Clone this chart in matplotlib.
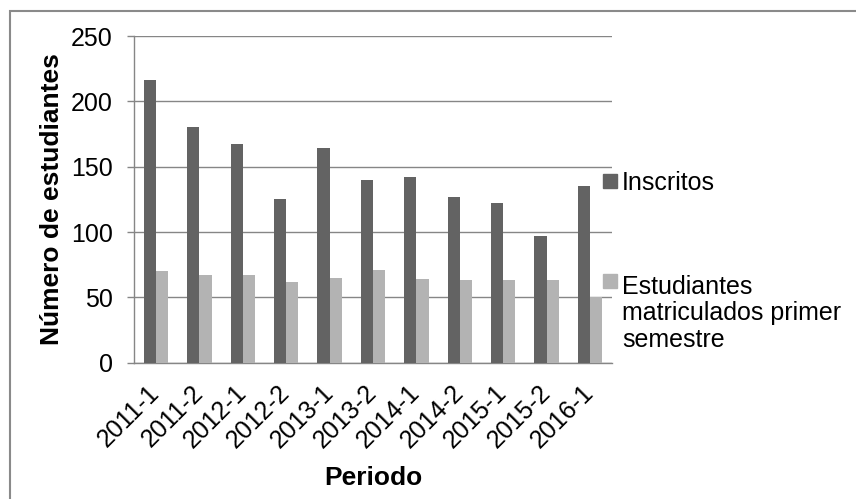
import numpy as np
import matplotlib
matplotlib.use("Agg")
from matplotlib import pyplot as plt
from matplotlib.patches import Rectangle

plt.rcParams['font.family'] = ['Liberation Sans', 'DejaVu Sans']

periodos = ['2011-1', '2011-2', '2012-1', '2012-2', '2013-1', '2013-2',
            '2014-1', '2014-2', '2015-1', '2015-2', '2016-1']
inscritos = [216, 180, 167, 125, 164, 140, 142, 127, 122, 97, 135]
matriculados = [70, 67, 67, 62, 65, 71, 64, 63, 63, 63, 50]
series_names = ['Inscritos', 'Estudiantes\nmatriculados primer\nsemestre']
colors = ['#636363', '#b3b3b3']

W, H = 856, 499
fig = plt.figure(figsize=(W / 100, H / 100), dpi=100)
# axes box in pixel coordinates of the reference
left, right, top, bottom = 134.3, 611.7, 36.0, 362.7
ax = fig.add_axes([left / W, 1 - bottom / H, (right - left) / W, (bottom - top) / H])

x = np.arange(len(periodos))
bw = 0.28
ax.bar(x - bw / 2, inscritos, bw, color=colors[0], zorder=3)
ax.bar(x + bw / 2, matriculados, bw, color=colors[1], zorder=3)

ax.set_xlim(-0.5, len(periodos) - 0.5)
ax.set_ylim(0, 250)
ax.set_yticks(range(0, 251, 50))
ax.yaxis.grid(True, color='#868686', linewidth=1.0, zorder=0)

for s in ['top', 'right']:
    ax.spines[s].set_visible(False)
for s in ['left', 'bottom']:
    ax.spines[s].set_color('#868686')
    ax.spines[s].set_linewidth(1.0)

ax.tick_params(axis='y', length=5, width=1.0, color='#868686', pad=10.5, labelsize=18)
ax.tick_params(axis='x', length=0, pad=19, labelsize=18)
ax.set_xticks(x)
ax.set_xticklabels(periodos, rotation=45, ha='right', va='center', rotation_mode='anchor')

ax.set_xlabel('Periodo', fontsize=19, fontweight='bold', va='center')
ax.xaxis.set_label_coords(0.5, (bottom - 478) / (bottom - top))
ax.set_ylabel('Número de estudiantes', fontsize=19, fontweight='bold', va='center')
ax.yaxis.set_label_coords((52 - left) / (right - left), 0.5)

# legend drawn by hand (Excel puts the key next to the first line)
leg_y = [174, 274.3]
leg_base = [190, 346.7]   # baseline of the last line of each entry
for c, name, ky, by in zip(colors, series_names, leg_y, leg_base):
    fig.add_artist(Rectangle((602.7 / W, 1 - (ky + 14) / H), 14 / W, 14 / H,
                             transform=fig.transFigure, color=c))
    fig.text(622 / W, 1 - by / H, name, fontsize=18, va='baseline', ha='left',
             linespacing=1.13)

# outer chart border (only top and left are inside the picture)
fig.add_artist(Rectangle((9.8 / W, -0.1), 1.2, 1.1 - 11.3 / H, transform=fig.transFigure,
                         fill=False, edgecolor='#8a8a8a', linewidth=1.5))

fig.savefig('out.png', dpi=100)
